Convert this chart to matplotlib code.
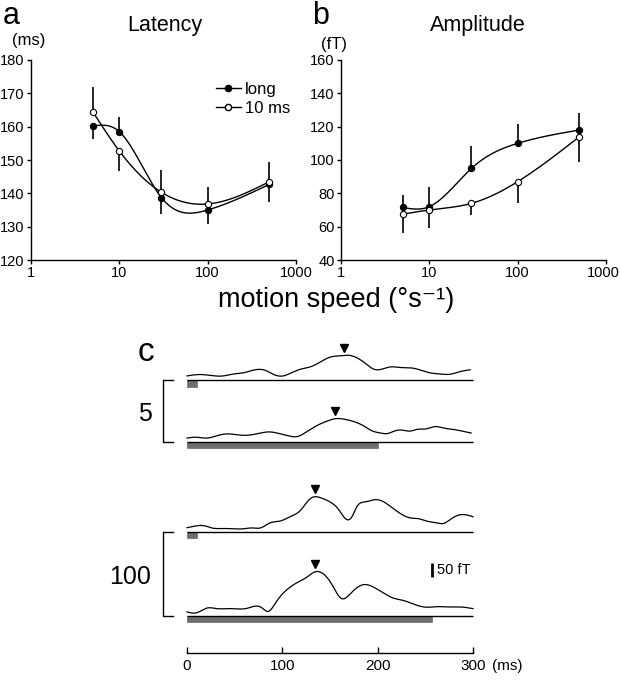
import numpy as np
import matplotlib.pyplot as plt
import matplotlib.transforms as mtransforms
from matplotlib.lines import Line2D

plt.rcParams['font.family'] = ['Liberation Sans', 'DejaVu Sans']

# ---- panel a / b data (motion speed in deg/s) ----
speed = [5, 10, 30, 100, 500]

lat_long = [160.2, 158.5, 138.7, 135.0, 142.7]
lat_long_lo = [4.0, 0, 4.8, 4.2, 5.2]
lat_long_hi = [0, 4.5, 0, 0, 0]
lat_short = [164.5, 152.7, 140.3, 136.8, 143.5]
lat_short_lo = [0, 6.0, 0, 0, 0]
lat_short_hi = [7.5, 0, 6.7, 5.2, 6.0]

amp_long = [71.5, 72.0, 95.0, 110.0, 118.0]
amp_long_lo = [0, 0, 0, 0, 0]
amp_long_hi = [7.5, 11.5, 13.5, 11.5, 10.0]
amp_short = [67.5, 70.0, 74.0, 87.0, 114.0]
amp_short_lo = [11.5, 11.0, 7.0, 13.0, 15.0]
amp_short_hi = [0, 0, 0, 0, 0]

# ---- panel c waveforms (time in ms, field in fT) ----
t1 = [0, 14, 24, 38, 49, 59, 70, 82, 91, 101, 108, 119, 129, 140, 150, 161, 169, 178,
      187, 196, 203, 213, 224, 234, 244, 255, 265, 276, 286, 297]
w1 = [15, 20, 17, 15, 22, 26, 36, 35, 20, 15, 24, 39, 47, 65, 82, 87, 89, 80,
      60, 39, 38, 47, 45, 44, 37, 26, 22, 21, 30, 37]
t2 = [0, 10, 21, 31, 42, 52, 63, 73, 87, 98, 108, 115, 122, 129, 140, 148, 155, 164,
      174, 185, 194, 203, 210, 216, 224, 234, 241, 251, 260, 269, 279, 290, 298]
w2 = [14, 17, 14, 22, 29, 26, 24, 29, 36, 29, 21, 19, 29, 44, 65, 76, 83, 82,
      74, 58, 40, 32, 30, 37, 43, 39, 45, 47, 55, 50, 45, 38, 32]
t3 = [0, 9, 18, 26, 38, 49, 59, 68, 77, 87, 98, 108, 119, 127, 133, 140, 150, 159,
      167, 173, 178, 187, 197, 204, 213, 224, 234, 243, 251, 262, 269, 276, 285, 294, 300]
w3 = [15, 21, 22, 14, 12, 11, 11, 14, 14, 32, 39, 54, 77, 111, 125, 122, 107, 80,
      45, 54, 89, 107, 115, 111, 92, 65, 50, 47, 39, 32, 30, 44, 60, 60, 54]
t4 = [0, 10, 21, 31, 45, 63, 78, 85, 94, 105, 115, 126, 134, 143, 152, 162, 171, 178,
      187, 196, 206, 216, 227, 237, 251, 262, 272, 286, 300]
w4 = [13, 10, 27, 25, 25, 26, 29, 15, 51, 93, 117, 138, 156, 149, 111, 61, 77, 99,
      111, 101, 81, 63, 54, 42, 30, 32, 31, 31, 25]
stim_dur = [10, 200, 10, 257]
peak_lat = [165, 155, 134, 134]
speed_labels = ['5', '100']


def spline(x, y, xs):
    # natural cubic spline through the points
    x = np.asarray(x, float)
    y = np.asarray(y, float)
    n = len(x)
    h = np.diff(x)
    A = np.zeros((n, n))
    b = np.zeros(n)
    A[0, 0] = A[-1, -1] = 1
    for i in range(1, n - 1):
        A[i, i - 1] = h[i - 1]
        A[i, i] = 2 * (h[i - 1] + h[i])
        A[i, i + 1] = h[i]
        b[i] = 3 * ((y[i + 1] - y[i]) / h[i] - (y[i] - y[i - 1]) / h[i - 1])
    c = np.linalg.solve(A, b)
    idx = np.clip(np.searchsorted(x, xs) - 1, 0, n - 2)
    dx = xs - x[idx]
    bb = (y[idx + 1] - y[idx]) / h[idx] - h[idx] * (2 * c[idx] + c[idx + 1]) / 3
    d = (c[idx + 1] - c[idx]) / (3 * h[idx])
    return y[idx] + bb * dx + c[idx] * dx ** 2 + d * dx ** 3


def speed_panel(ax, ys_long, lo_l, hi_l, ys_short, lo_s, hi_s, ylim, yticks):
    lx = np.log10(speed)
    xs = np.linspace(lx[0], lx[-1], 300)
    ax.plot(10 ** xs, spline(lx, ys_long, xs), color='black', lw=1.0, zorder=2)
    ax.plot(10 ** xs, spline(lx, ys_short, xs), color='black', lw=1.0, zorder=2)
    ax.errorbar(speed, ys_long, yerr=[lo_l, hi_l], fmt='none', ecolor='black',
                elinewidth=1.2, capsize=0, zorder=1)
    ax.errorbar(speed, ys_short, yerr=[lo_s, hi_s], fmt='none', ecolor='black',
                elinewidth=1.2, capsize=0, zorder=1)
    ax.plot(speed, ys_long, 'o', ms=4.5, mfc='black', mec='black', mew=0.8, zorder=3)
    ax.plot(speed, ys_short, 'o', ms=4.5, mfc='white', mec='black', mew=0.8, zorder=3)
    ax.set_xscale('log')
    ax.set_xlim(1, 1000)
    ax.set_xticks([1, 10, 100, 1000])
    ax.set_xticklabels(['1', '10', '100', '1000'])
    ax.minorticks_off()
    ax.set_ylim(*ylim)
    ax.set_yticks(yticks)
    for s in ['top', 'right']:
        ax.spines[s].set_visible(False)
    for s in ['left', 'bottom']:
        ax.spines[s].set_linewidth(1.0)
    ax.tick_params(direction='out', length=3, width=1.0, labelsize=10.5, pad=1.5)


fig = plt.figure(figsize=(6.2, 6.8), dpi=100)

ax_a = fig.add_axes([31 / 620, 1 - 260 / 680, 265 / 620, 200 / 680])
speed_panel(ax_a, lat_long, lat_long_lo, lat_long_hi, lat_short, lat_short_lo,
            lat_short_hi, (120, 180), range(120, 181, 10))
ax_b = fig.add_axes([341 / 620, 1 - 260 / 680, 265 / 620, 200 / 680])
speed_panel(ax_b, amp_long, amp_long_lo, amp_long_hi, amp_short, amp_short_lo,
            amp_short_hi, (40, 160), range(40, 161, 20))
# keep the last "1000" inside the figure edge
last = ax_b.get_xticklabels()[-1]
last.set_transform(last.get_transform() +
                   mtransforms.ScaledTranslation(-3 / 100, 0, fig.dpi_scale_trans))

handles = [Line2D([], [], color='black', lw=1.0, marker='o', ms=4.5, mfc='black', mec='black'),
           Line2D([], [], color='black', lw=1.0, marker='o', ms=4.5, mfc='white', mec='black')]
ax_a.legend(handles, ['long', '10 ms'], loc='upper left', bbox_to_anchor=(0.665, 0.93),
            frameon=False, fontsize=12, handlelength=1.5, handletextpad=0.25,
            labelspacing=0.2, borderpad=0)

fig.text(28.5 / 620, 1 - 40 / 680, '(ms)', ha='center', va='center', fontsize=12)
fig.text(334 / 620, 1 - 44 / 680, '(fT)', ha='center', va='center', fontsize=12)
fig.text(165 / 620, 1 - 25 / 680, 'Latency', ha='center', va='center', fontsize=15.5)
fig.text(478 / 620, 1 - 25 / 680, 'Amplitude', ha='center', va='center', fontsize=15.5)
fig.text(3 / 620, 1 - 0.5 / 680, 'a', ha='left', va='top', fontsize=22)
fig.text(312 / 620, 1 - 0.5 / 680, 'b', ha='left', va='top', fontsize=22)
fig.text(336 / 620, 1 - 300 / 680, 'motion speed (°s⁻¹)', ha='center', va='center',
         fontsize=19.5)

# ---- panel c ----
ax_c = fig.add_axes([100 / 620, 0, 420 / 620, 350 / 680])
ax_c.set_xlim(-91.3, 349.3)
ax_c.set_ylim(0, 1250)
base = [1071, 850, 529, 230]
bar_h = 23
traces = [(t1, w1), (t2, w2), (t3, w3), (t4, w4)]
for k, (tt, ww) in enumerate(traces):
    ts = np.linspace(tt[0], tt[-1], 600)
    ax_c.plot(ts, base[k] + spline(tt, ww, ts), color='black', lw=0.9)
    ax_c.hlines(base[k], 0, 300, color='black', lw=1.0)
    ax_c.bar(0, -bar_h, width=stim_dur[k], bottom=base[k], align='edge',
             color='#6e6e6e', edgecolor='#555555', lw=0.4)
    pk = np.interp(peak_lat[k], tt, ww)
    ax_c.plot(peak_lat[k], base[k] + pk + 27, marker='v', ms=6, color='black')

label_x = [-44, -60]
for j, lab in enumerate(speed_labels):
    top, bot = base[2 * j], base[2 * j + 1]
    ax_c.plot([-14.3, -24.8, -24.8, -14.3], [top, top, bot, bot], color='black', lw=1.0)
    ax_c.text(label_x[j], (top + bot) / 2 - 10, lab, ha='center', va='center', fontsize=18)

ax_c.text(-43, 1171, 'c', ha='center', va='center', fontsize=24)

# scale bar
ax_c.vlines(257, 368, 418, color='black', lw=2.0)
ax_c.text(262, 393, '50 fT', ha='left', va='center', fontsize=10.5)

for s in ['top', 'right', 'left']:
    ax_c.spines[s].set_visible(False)
ax_c.spines['bottom'].set_position(('data', 96))
ax_c.spines['bottom'].set_bounds(0, 300)
ax_c.spines['bottom'].set_linewidth(1.0)
ax_c.set_yticks([])
ax_c.set_xticks([0, 100, 200, 300])
ax_c.tick_params(axis='x', direction='in', length=4, width=1.0, labelsize=11, pad=4)
ax_c.text(320, 96 - 21, '(ms)', ha='left', va='top', fontsize=11)
ax_c.patch.set_alpha(0)

fig.savefig('out.png', dpi=100)
